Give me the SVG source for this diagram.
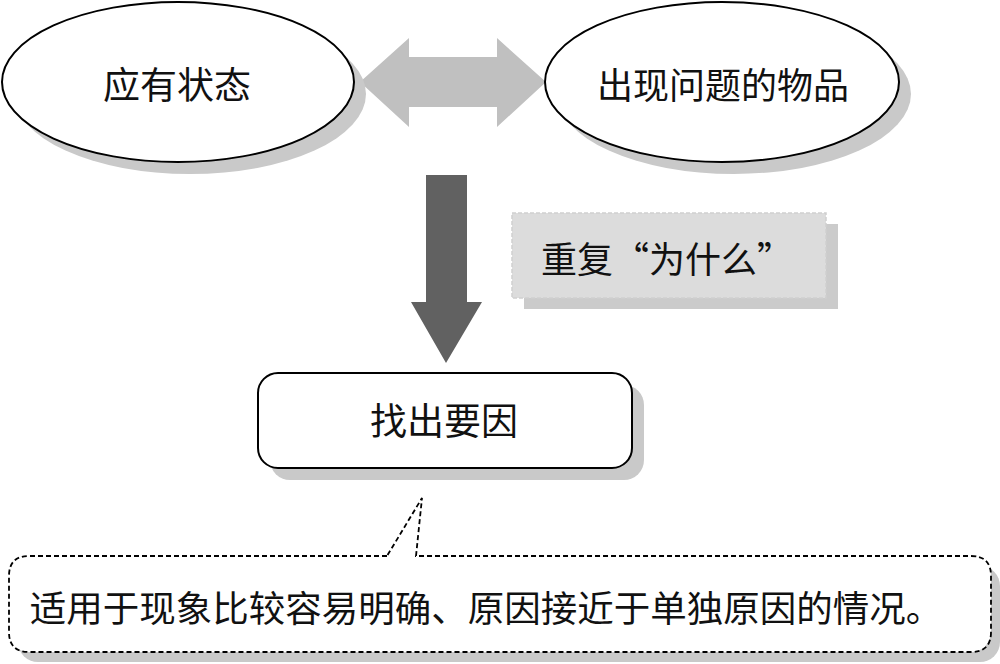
<svg xmlns="http://www.w3.org/2000/svg" width="1000" height="664" viewBox="0 0 1000 664">
<style>
.shadow{fill:#c9c9c9;stroke:none}
.node{fill:#ffffff;stroke:#000;stroke-width:2}
.t{font-family:"Noto Sans CJK SC","Noto Sans CJK TC",sans-serif;font-size:36px;fill:#111;text-anchor:middle;dominant-baseline:central}
.dash{stroke:#000;stroke-width:1.8;stroke-dasharray:5,3}
</style>
<rect width="1000" height="664" fill="#ffffff"/>
<g id="connectors">
<polygon points="360,82 409,38 409,57 497,57 497,38 546,82 497,127 497,107 409,107 409,127" fill="#c0c0c0"/>
<polygon points="426,175 467,175 467,302 482,302 446,363 411,302 426,302" fill="#616161"/>
</g>
<g id="node-should">
<ellipse class="shadow" cx="190" cy="94" rx="176" ry="80"/>
<ellipse class="node" cx="178" cy="82" rx="176" ry="80"/>
<text class="t" x="177" y="83" style="font-size:37px">应有状态</text>
</g>
<g id="node-problem">
<ellipse class="shadow" cx="734" cy="94" rx="177" ry="80"/>
<ellipse class="node" cx="722" cy="82" rx="177" ry="80"/>
<text class="t" x="723" y="83">出现问题的物品</text>
</g>
<g id="node-why">
<rect x="524" y="224" width="314" height="85" fill="#cbcbcb"/>
<rect x="512" y="213" width="314" height="85" fill="#dcdcdc" stroke="#cfcfcf" stroke-width="1.5" stroke-dasharray="4,2"/>
<text class="t" x="541" y="257" style="text-anchor:start">重复“为什么”</text>
</g>
<g id="node-cause">
<rect class="shadow" x="270" y="385" width="374" height="95" rx="20"/>
<rect class="node" x="258" y="373" width="374" height="95" rx="20"/>
<text class="t" x="444" y="419" style="font-size:37px">找出要因</text>
</g>
<g id="node-note">
<rect class="shadow" x="18" y="566" width="982" height="96" rx="20"/>
<rect x="9" y="556" width="982" height="96" rx="20" fill="#ffffff"/>
<path class="dash" fill="none" d="M387,556 L29,556 Q9,556 9,576 L9,632 Q9,652 29,652 L971,652 Q991,652 991,632 L991,576 Q991,556 971,556 L416,556 L422,498 L387,556"/>
<text class="t" x="486" y="606" style="font-size:36.5px">适用于现象比较容易明确、原因接近于单独原因的情况。</text>
</g>
</svg>
